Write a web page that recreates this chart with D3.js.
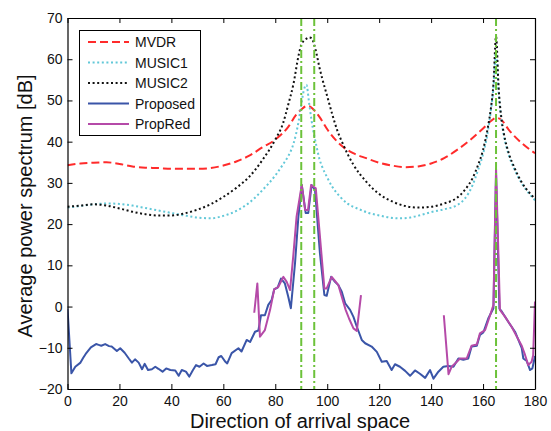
<!DOCTYPE html>
<html>
<head>
<meta charset="utf-8">
<script src="https://cdn.jsdelivr.net/npm/d3@7/dist/d3.min.js"></script>
<style>
  html, body { margin: 0; padding: 0; background: #fff; }
  svg { display: block; font-family: "Liberation Sans", Arial, sans-serif; }
</style>
</head>
<body>
<svg id="chart" width="551" height="431"></svg>
<script>
// ---------- DATA ----------
const xTicks = [0, 20, 40, 60, 80, 100, 120, 140, 160, 180];
const yTicks = [-20, -10, 0, 10, 20, 30, 40, 50, 60, 70];
const seriesNames = ["MVDR", "MUSIC1", "MUSIC2", "Proposed", "PropRed"];
const trueDoas = [90, 95, 165];

const mvdr = [[0,34.3],[5,34.7],[10,34.9],[15,35.0],[20,34.6],[25,34.0],[30,33.7],[35,33.6],[40,33.4],[45,33.4],[50,33.4],[55,33.6],[60,34.2],[65,35.2],[70,36.6],[75,38.6],[80,40.5],[85,43.6],[88,46.5],[90,47.8],[92,48.6],[93,48.6],[95,47.6],[97,46.0],[100,43.0],[105,39.3],[110,37.2],[115,36.0],[120,34.9],[125,34.2],[130,33.8],[135,34.0],[140,34.7],[145,36.0],[150,38.0],[155,40.4],[160,43.2],[163,45.0],[165,45.8],[167,45.3],[170,42.8],[175,39.6],[180,37.2]];

const music1 = [[0,24.0],[5,24.4],[10,24.8],[15,25.0],[20,24.9],[25,24.5],[30,23.9],[35,23.3],[40,22.7],[45,22.1],[50,21.6],[55,21.4],[60,22.0],[65,23.2],[70,25.2],[75,28.2],[80,31.8],[83,34.5],[85,36.5],[87,39.5],[89,45.0],[90,49.0],[91,52.5],[92,53.8],[93,49.5],[94,45.0],[95,41.5],[96,38.5],[97,35.8],[98,34.0],[100,31.3],[102,29.0],[105,26.6],[108,24.9],[112,23.7],[116,22.7],[120,22.1],[124,21.6],[128,21.4],[132,21.6],[136,22.2],[140,22.9],[145,23.6],[150,24.6],[153,26.2],[156,29.5],[158,33.0],[160,37.0],[162,43.0],[163,47.5],[164,53.0],[165,62.0],[166,52.0],[167,45.5],[168,41.5],[170,36.6],[172,33.4],[175,29.8],[178,27.2],[180,25.8]];

const music2 = [[0,24.2],[5,24.5],[10,24.8],[15,24.5],[20,23.8],[25,23.0],[30,22.4],[35,22.1],[40,22.1],[45,22.6],[50,23.5],[55,24.8],[60,26.6],[65,28.8],[70,31.5],[75,35.5],[80,40.5],[83,44.5],[85,49.0],[87,54.0],[89,61.0],[90,63.5],[91,64.5],[92,65.0],[93,65.3],[94,65.1],[95,63.5],[96,61.0],[97,58.0],[98,55.5],[100,51.0],[102,46.5],[104,42.5],[106,39.5],[108,36.8],[110,34.5],[115,30.3],[120,27.3],[125,25.5],[130,24.4],[135,24.0],[140,24.2],[145,25.0],[150,26.4],[153,28.3],[156,31.2],[158,34.2],[160,38.0],[162,44.0],[163,48.0],[164,54.0],[165,65.5],[166,53.0],[167,46.0],[168,42.0],[170,37.0],[172,33.8],[175,30.0],[178,27.5],[180,26.2]];

const proposed = [[0,-0.5],[1.5,-16.2],[3,-14.6],[5,-13.6],[6,-12.5],[7,-11.5],[9,-9.9],[11,-9.1],[12,-9.3],[13,-9.5],[14.5,-9.1],[16,-9.6],[17,-9.7],[19,-10.8],[20.3,-10.1],[22,-11.2],[23.6,-12.6],[24.8,-13.6],[26,-12.8],[27.4,-13.6],[28.7,-15.2],[29.7,-13.9],[31,-15.4],[32.5,-15.2],[33.8,-14.6],[35,-15.1],[36.6,-15.8],[38,-15.0],[39.6,-15.4],[41.5,-15.5],[42.8,-16.8],[44,-15.4],[45.6,-15.8],[46.9,-17.0],[48.2,-15.5],[49.5,-14.2],[50.8,-14.6],[52.4,-13.8],[53.7,-14.4],[55.6,-14.2],[57,-14.0],[58.2,-12.3],[59.2,-12.0],[60.8,-13.4],[61.5,-13.8],[63.2,-11.3],[65.8,-10.1],[67,-10.9],[69,-8.1],[70.3,-8.6],[72.2,-6.1],[73.5,-5.8],[74.5,-2.1],[76,-2.1],[77.3,0.4],[78.6,1.6],[79.6,4.2],[80.9,4.6],[82.2,6.8],[83.7,5.6],[85,2.4],[86,-0.4],[87.6,10.5],[88.9,21.8],[90.2,29.5],[91.7,22.7],[92.7,22.7],[94,29.5],[95.3,28.3],[97.2,12.9],[98.9,2.8],[99.8,2.6],[101.5,7.2],[103,6.0],[104.3,5.2],[105.6,3.6],[106.9,0.8],[108.8,-0.8],[110.1,-2.5],[111.4,-4.9],[113.3,-8.1],[114.6,-8.9],[117.1,-9.7],[119.1,-11.0],[121,-13.4],[122.9,-13.2],[124.8,-15.4],[126.1,-14.0],[128,-14.6],[130,-15.6],[131.9,-16.8],[133.8,-15.5],[135.7,-16.3],[137.7,-17.3],[139.6,-15.4],[140.9,-17.5],[142.8,-15.8],[144.7,-14.6],[146.6,-14.4],[148.6,-14.6],[150.5,-12.6],[152.4,-12.9],[154.3,-12.6],[155.6,-9.7],[157.6,-9.5],[158.8,-6.9],[160.1,-6.3],[162,-2.9],[164,-0.4],[165,32.0],[166.3,-0.5],[167.2,-1.2],[169.7,-3.7],[172.3,-6.1],[174.9,-10.1],[175.5,-12.6],[176.8,-13.2],[178.1,-15.4],[179,-15.0],[180,-12.0]];

const propRed = [[71.9,-1.5],[73.1,5.6],[74.1,-7.3],[76,-5.7],[78,-0.8],[79.6,4.2],[81.2,4.8],[83.1,7.2],[84.4,6.0],[85.7,4.0],[86.9,12.1],[88.2,21.8],[90.2,29.5],[91.5,23.4],[92.6,23.4],[93.8,29.5],[95.6,28.7],[97.2,17.0],[98.9,4.4],[99.8,4.4],[101.7,7.2],[103,6.2],[104.3,5.2],[105.6,2.4],[107.1,-0.8],[108.4,-2.9],[110.1,-5.3],[111.4,-5.9],[113,2.8],
  [113.5,null],
  [144.9,-2.1],[146.7,-16.4],[147.9,-14.6],[149.9,-13.4],[151.1,-12.6],[153.7,-12.6],[155.6,-9.5],[157.6,-9.2],[158.8,-6.5],[160.8,-5.7],[162.7,-2.1],[164,0.4],[165,33.5],[166.5,-0.8],[168.5,-2.5],[171,-4.9],[173,-7.3],[174.9,-9.5],[176.2,-11.8],[177.4,-14.2],[178.7,-13.4],[179.3,-11.8],[180,1.2]];

// ---------- CHART ----------
const svg = d3.select("#chart");
const pLeft = 67.5, pRight = 535, pTop = 18, pBottom = 389;
const x = d3.scaleLinear().domain([0, 180]).range([pLeft, pRight]);
const y = d3.scaleLinear().domain([-20, 70]).range([pBottom, pTop]);

const colors = {
  MVDR: "#ff2b2b", MUSIC1: "#62c8d8", MUSIC2: "#111111",
  Proposed: "#3a55a8", PropRed: "#b54aa8"
};
const dashes = {
  MVDR: "8,4", MUSIC1: "2,2.6", MUSIC2: "2,2.6", Proposed: null, PropRed: null
};

svg.append("defs").append("clipPath").attr("id", "clip")
  .append("rect").attr("x", pLeft).attr("y", pTop)
  .attr("width", pRight - pLeft).attr("height", pBottom - pTop);

const g = svg.append("g").attr("clip-path", "url(#clip)");

const smooth = d3.line().x(d => x(d[0])).y(d => y(d[1])).curve(d3.curveMonotoneX);
const straight = d3.line().defined(d => d[1] !== null)
  .x(d => x(d[0])).y(d => y(d[1]));

function draw(data, name, gen) {
  g.append("path").datum(data)
    .attr("d", gen)
    .attr("fill", "none")
    .attr("stroke", colors[name])
    .attr("stroke-width", 2)
    .attr("stroke-dasharray", dashes[name])
    .attr("stroke-linejoin", "round");
}
draw(mvdr, "MVDR", smooth);
draw(music1, "MUSIC1", smooth);
draw(music2, "MUSIC2", smooth);
draw(proposed, "Proposed", straight);
draw(propRed, "PropRed", straight);

// true DOA lines
g.selectAll("line.doa").data(trueDoas).enter().append("line")
  .attr("class", "doa")
  .attr("x1", d => x(d)).attr("x2", d => x(d))
  .attr("y1", pTop).attr("y2", pBottom)
  .attr("stroke", "#6cc23a").attr("stroke-width", 2)
  .attr("stroke-dasharray", "8,3,2,3");

// axes
const fs = 14;
const xAxis = svg.append("g").attr("transform", `translate(0,${pBottom})`)
  .call(d3.axisBottom(x).tickValues(xTicks).tickSizeInner(-5).tickSizeOuter(0).tickPadding(7));
const yAxis = svg.append("g").attr("transform", `translate(${pLeft},0)`)
  .call(d3.axisLeft(y).tickValues(yTicks).tickSizeInner(-5).tickSizeOuter(0).tickPadding(5));
const xTop = svg.append("g").attr("transform", `translate(0,${pTop})`)
  .call(d3.axisTop(x).tickValues(xTicks).tickSizeInner(-5).tickSizeOuter(0).tickFormat(""));
const yRight = svg.append("g").attr("transform", `translate(${pRight},0)`)
  .call(d3.axisRight(y).tickValues(yTicks).tickSizeInner(-5).tickSizeOuter(0).tickFormat(""));
[xAxis, yAxis, xTop, yRight].forEach(a => {
  a.selectAll("text").attr("font-size", fs).attr("font-family", "Liberation Sans, Arial, sans-serif").attr("fill", "#111");
  a.selectAll("path.domain").attr("stroke", "#000").attr("stroke-width", 1.2);
  a.selectAll(".tick line").attr("stroke", "#000");
});

// axis labels
svg.append("text").attr("x", 300).attr("y", 428)
  .attr("text-anchor", "middle").attr("font-size", 20).attr("fill", "#111")
  .text("Direction of arrival space");
svg.append("text").attr("transform", `translate(32,206) rotate(-90)`)
  .attr("text-anchor", "middle").attr("font-size", 20).attr("fill", "#111")
  .text("Average power spectrum [dB]");

// legend
const lg = svg.append("g");
lg.append("rect").attr("x", 79.5).attr("y", 30.5).attr("width", 121).attr("height", 105)
  .attr("fill", "#fff").attr("stroke", "#000").attr("stroke-width", 1);
seriesNames.forEach((name, i) => {
  const cy = 42 + i * 20.5;
  lg.append("line").attr("x1", 88).attr("x2", 129).attr("y1", cy).attr("y2", cy)
    .attr("stroke", colors[name]).attr("stroke-width", 2)
    .attr("stroke-dasharray", dashes[name]);
  lg.append("text").attr("x", 135).attr("y", cy + 5)
    .attr("font-size", 14).attr("fill", "#111").text(name);
});
</script>
</body>
</html>
